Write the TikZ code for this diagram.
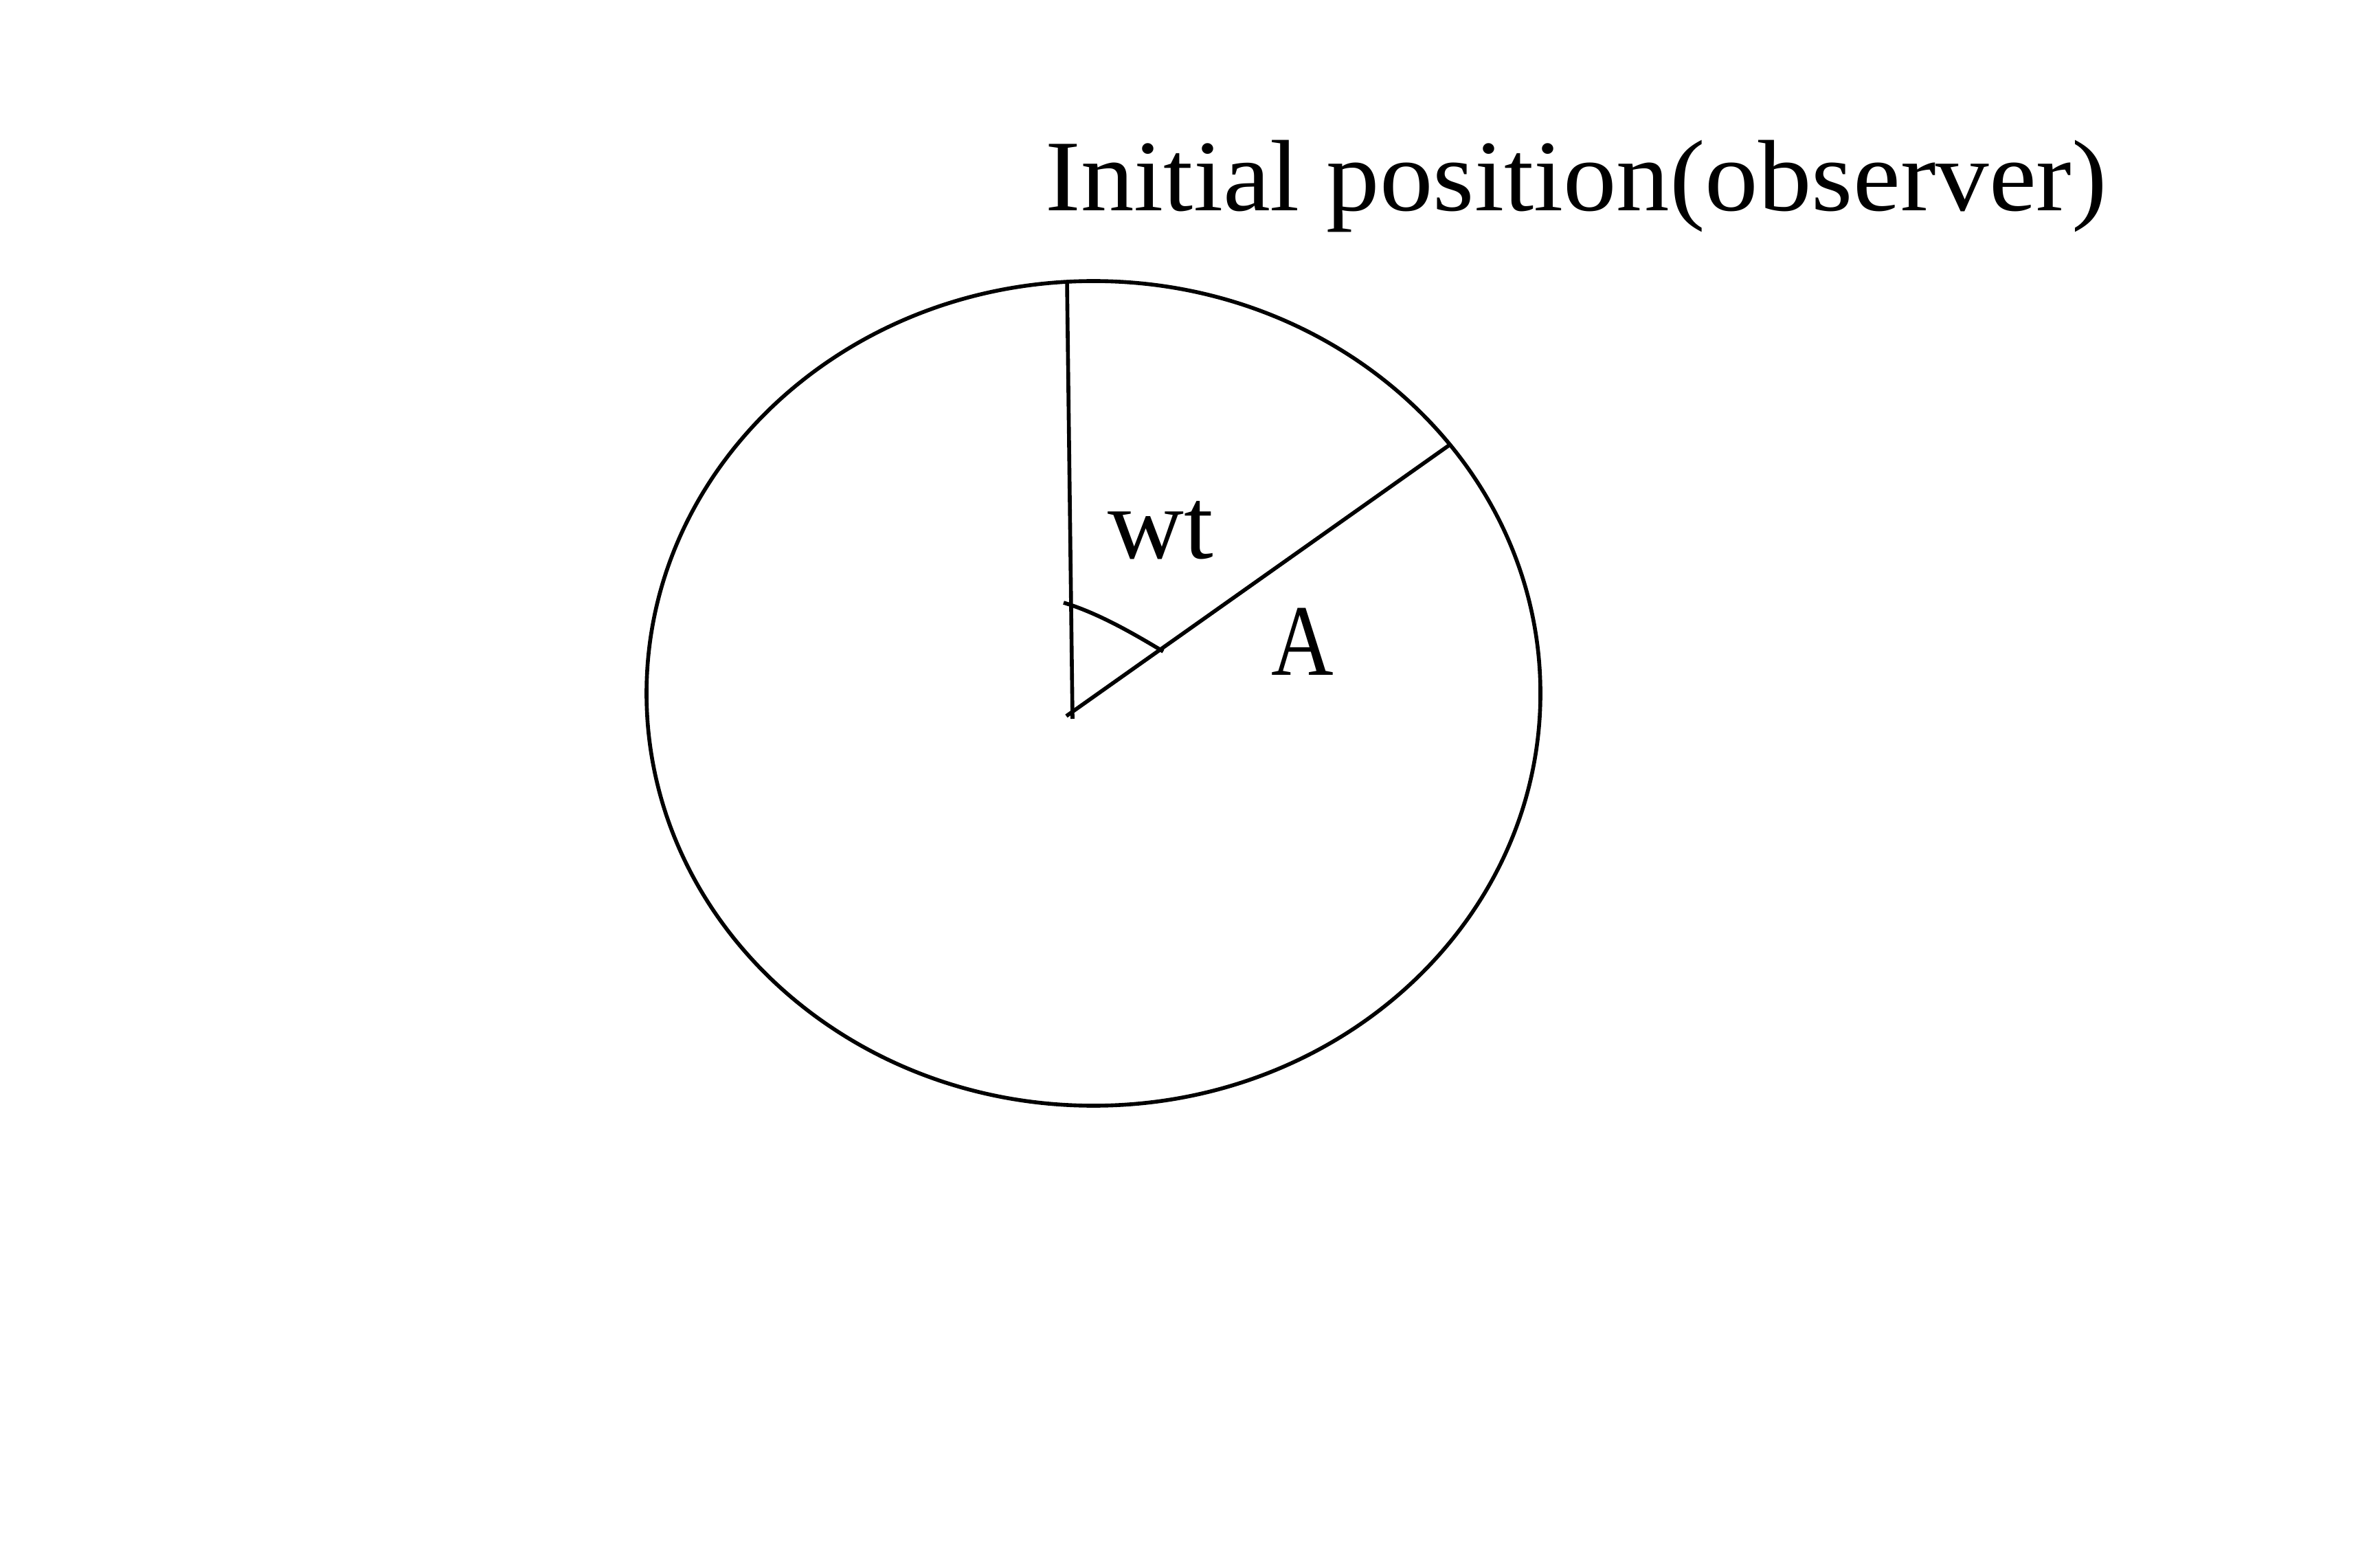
\documentclass[tikz,border=0pt]{standalone}
\usepackage{fontspec}
\setmainfont{Liberation Serif}
\begin{document}
\begin{tikzpicture}[
  stroke/.style={line width=1.6pt, black},
  lbl/.style={inner sep=0pt, anchor=base west, font=\fontsize{42}{50}\selectfont}
]
\fill[white] (0,0) rectangle (34.64,22.56);
\useasboundingbox (0,0) rectangle (34.64,22.56);
% circle
\coordinate (C) at (15.915,12.47);
\draw[stroke] (C) ellipse [x radius=6.505, y radius=6.00];
% radii
\coordinate (T) at (15.53,18.47);
\coordinate (B) at (15.61,12.10);
\coordinate (O) at (15.52,12.14);
\coordinate (P) at (21.09,16.08);
\draw[stroke] (T) -- (B);
\draw[stroke] (O) -- (P);
% angle mark
\coordinate (AS) at (15.48,13.79);
\coordinate (AE) at (16.93,13.08);
\draw[stroke] (AS) .. controls (15.96,13.645) and (16.45,13.37) .. (AE);
% labels
\node[lbl, xscale=1.05, transform shape] (title) at (15.21,19.49) {Initial position(observer)};
\node[lbl, xscale=1.04, transform shape] (wt) at (16.12,14.43) {wt};
\node[lbl, xscale=0.85, transform shape] (A) at (18.50,12.73) {A};
\end{tikzpicture}
\end{document}
